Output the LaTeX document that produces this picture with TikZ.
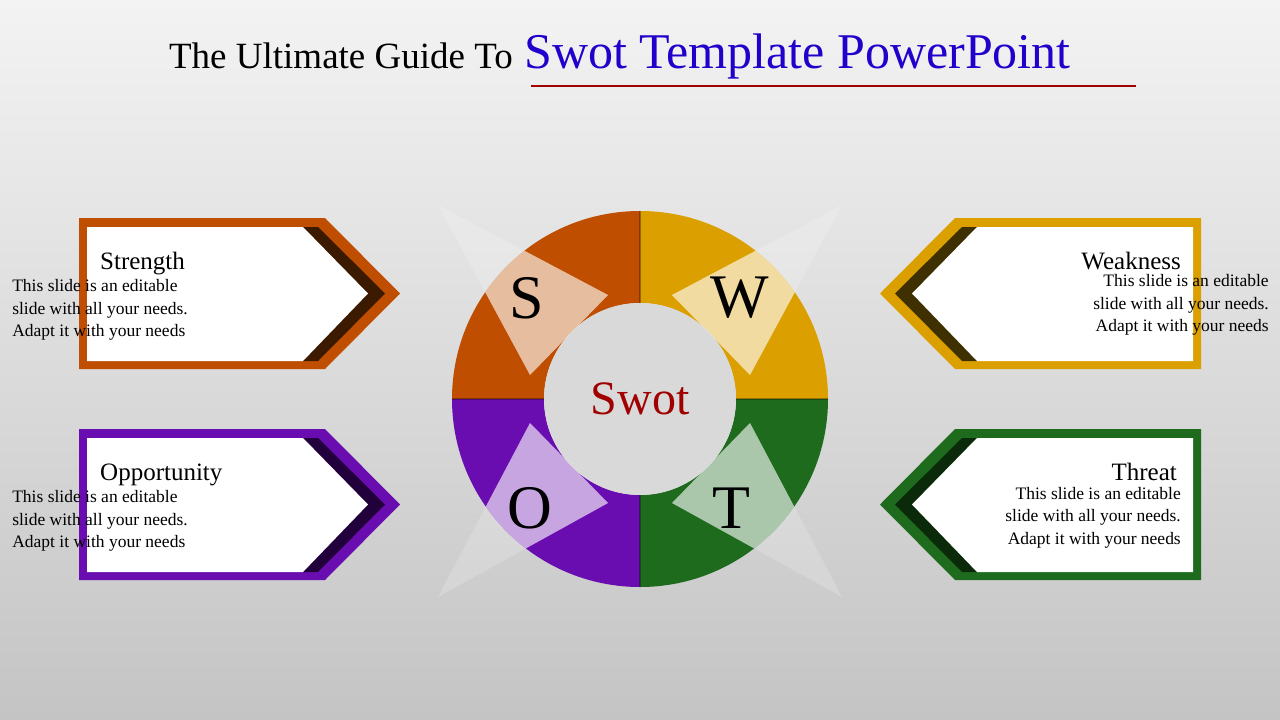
\documentclass[tikz,border=0pt]{standalone}
\usepackage{fontspec}
\setmainfont{Liberation Serif}
\usetikzlibrary{positioning, calc}
\definecolor{sOrange}{HTML}{C04E00}
\definecolor{sYellow}{HTML}{DBA000}
\definecolor{sGreen}{HTML}{1E6B1E}
\definecolor{sPurple}{HTML}{6A0DB0}
\definecolor{dOrange}{HTML}{3C1A00}
\definecolor{dYellow}{HTML}{3E3000}
\definecolor{dGreen}{HTML}{0A2A0A}
\definecolor{dPurple}{HTML}{22003C}
\definecolor{titleBlue}{HTML}{2200CC}
\definecolor{swotRed}{HTML}{A00000}
\tikzstyle{head} = [font=\fontsize{25}{28}\selectfont, inner sep=0pt]
\tikzstyle{body} = [font=\fontsize{17.5}{22.5}\selectfont, inner sep=0pt]
\tikzstyle{letter} = [font=\fontsize{62}{62}\selectfont, inner sep=0pt]
\tikzstyle{ray} = [fill=white, opacity=0.18]
\tikzstyle{kite} = [fill=white, opacity=0.55]
\begin{document}
\begin{tikzpicture}[x=1pt, y=-1pt]
	\shade[top color={rgb,255:red,243;green,243;blue,243}, bottom color={rgb,255:red,196;green,196;blue,196}] (0,0) rectangle (1280,720);
	\useasboundingbox (0,0) rectangle (1280,720);
	% title
	\node (TitleB) [anchor=base west, inner sep=0pt, text=titleBlue, font=\fontsize{50}{50}\selectfont] at (524,68) {Swot Template PowerPoint};
	\node (TitleA) [anchor=base east, inner sep=0pt, font=\fontsize{37}{37}\selectfont] at (513,68) {The Ultimate Guide To};
	\draw[swotRed, line width=2.5pt] (531,86) -- (1136,86);
	% boxes
	\foreach \xs/\dy/\col/\dk in {1/0/sOrange/dOrange, 1/211/sPurple/dPurple, -1/0/sYellow/dYellow, -1/211/sGreen/dGreen}{
		\begin{scope}[shift={(640,\dy)}, xscale=\xs, shift={(-640,0)}]
			\fill[\col] (79,218) -- (325,218) -- (400,293.5) -- (325,369) -- (79,369) -- cycle;
			\fill[\dk] (303,227) -- (318,227) -- (385,293.5) -- (318,361) -- (303,361) -- cycle;
			\fill[white] (87,227) -- (303,227) -- (368,293.5) -- (303,361) -- (87,361) -- cycle;
		\end{scope}
	}
	% box texts
	\node (Strength) [head, anchor=base west] at (100,269) {Strength};
	\node (StrengthText) [body, anchor=north west, align=left, below=5pt of Strength.south west] {This slide is an editable\\slide with all your needs.\\Adapt it with your needs};
	\node (Opportunity) [head, anchor=base west] at (100,480) {Opportunity};
	\node (OpportunityText) [body, anchor=north west, align=left, below=5pt of Opportunity.south west] {This slide is an editable\\slide with all your needs.\\Adapt it with your needs};
	\node (Weakness) [head, anchor=base east] at (1181,269) {Weakness};
	\node (WeaknessText) [body, anchor=north east, align=right, below=5pt of Weakness.south east] {This slide is an editable\\slide with all your needs.\\Adapt it with your needs};
	\node (Threat) [head, anchor=base east] at (1177,480) {Threat};
	\node (ThreatText) [body, anchor=north east, align=right] at (1181,487) {This slide is an editable\\slide with all your needs.\\Adapt it with your needs};
	% ring
	\coordinate (Centre) at (640,399);
	\fill[sYellow] (Centre) ++(188,0) arc[start angle=0, end angle=-90, radius=188] -- ++(0,92) arc[start angle=-90, end angle=0, radius=96] -- cycle;
	\fill[sOrange] (Centre) ++(-188,0) arc[start angle=180, end angle=270, radius=188] -- ++(0,92) arc[start angle=270, end angle=180, radius=96] -- cycle;
	\fill[sPurple] (Centre) ++(-188,0) arc[start angle=180, end angle=90, radius=188] -- ++(0,-92) arc[start angle=90, end angle=180, radius=96] -- cycle;
	\fill[sGreen] (Centre) ++(188,0) arc[start angle=0, end angle=90, radius=188] -- ++(0,-92) arc[start angle=90, end angle=0, radius=96] -- cycle;
	\draw[black, opacity=0.3, line width=1.5pt] (640,211) -- (640,303) (640,495) -- (640,587) (452,399) -- (544,399) (736,399) -- (828,399);
	\fill[black!15] (Centre) circle[radius=96];
	% rays
	\fill[ray] (438,205) -- (608,295) -- (530,375) -- cycle;
	\fill[ray] (842,205) -- (672,295) -- (750,375) -- cycle;
	\fill[ray] (438,597) -- (608,503) -- (530,423) -- cycle;
	\fill[ray] (842,597) -- (672,503) -- (750,423) -- cycle;
	\begin{scope}[even odd rule]
		\clip (Centre) circle[radius=188] circle[radius=96];
		\fill[kite] (438,205) -- (608,295) -- (530,375) -- cycle;
		\fill[kite] (842,205) -- (672,295) -- (750,375) -- cycle;
		\fill[kite] (438,597) -- (608,503) -- (530,423) -- cycle;
		\fill[kite] (842,597) -- (672,503) -- (750,423) -- cycle;
	\end{scope}
	% letters
	\node (S) [letter] at (527,298) {S};
	\node (W) [letter] at (740,298) {W};
	\node (O) [letter] at (530,508) {O};
	\node (T) [letter] at (731,508) {T};
	\node (Swot) [inner sep=0pt, text=swotRed, font=\fontsize{48}{48}\selectfont] at (Centre) {Swot};
\end{tikzpicture}
\end{document}
